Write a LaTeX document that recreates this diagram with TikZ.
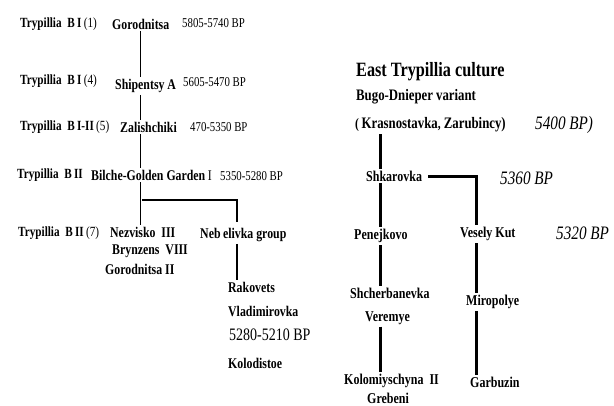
\documentclass[tikz,border=0pt]{standalone}
\usepackage{fontspec}
\setmainfont{Liberation Serif}[FakeStretch=0.8]
\usetikzlibrary{positioning}

\begin{document}
\begin{tikzpicture}[x=1pt,y=-1pt,
          every node/.style={inner sep=2pt,anchor=west},
          stage/.style={font=\fontsize{14}{16}\selectfont\bfseries},
          lab/.style={font=\fontsize{14.8}{17}\selectfont\bfseries},
          date/.style={font=\fontsize{13.5}{15}\selectfont},
          bigdate/.style={font=\fontsize{17.5}{19}\selectfont},
          title/.style={font=\fontsize{20.3}{22}\selectfont\bfseries},
          sub/.style={font=\fontsize{16}{18}\selectfont\bfseries},
          east/.style={font=\fontsize{15}{17}\selectfont\bfseries},
          idate/.style={font=\fontsize{19}{21}\selectfont\itshape},
          link/.style={line width=1.5pt},
          thick link/.style={line width=3pt},
      ]
        \useasboundingbox (0,0) rectangle (614,405);

        % West: Trypillia B stages
        \node[stage] (t1) at (18,24) {Trypillia\ \ B\,I\,{\mdseries(1)}};
        \node[lab] (gor) at (110,24) {Gorodnitsa};
        \node[date] (d1) at (180,23) {5805-5740 BP};
        \node[stage] (t2) at (18,81) {Trypillia\ \ B\,I\,{\mdseries(4)}};
        \node[lab] (ship) at (113,86) {Shipentsy A};
        \node[date] (d2) at (181,82) {5605-5470 BP};
        \node[stage] (t3) at (18,127) {Trypillia\ \ B\,I-II\,{\mdseries(5)}};
        \node[lab] (zal) at (118,127) {Zalishchiki};
        \node[date] (d3) at (188,127) {470-5350 BP};
        \node[stage] (t4) at (15,175) {Trypillia\ \ B\,II};
        \node[lab] (bil) at (89,175) {Bilche-Golden Garden\,{\mdseries I}};
        \node[date] (d4) at (218,176) {5350-5280 BP};
        \node[stage] (t5) at (16,233) {Trypillia\ \ B\,II\,{\mdseries(7)}};
        \node[lab] (nez) at (108,232) {Nezvisko\ \ III};
        \node[lab] (bry) at (110,251) {Brynzens\ \ VIII};
        \node[lab] (gor2) at (103,269) {Gorodnitsa\ II};
        \node[lab] (neb) at (198,235) {Neb\,elivka group};
        \node[lab] (rak) at (226,287) {Rakovets};
        \node[lab] (vla) at (226,311) {Vladimirovka};
        \node[bigdate] (d5) at (227,335) {5280-5210 BP};
        \node[lab] (kol) at (226,363) {Kolodistoe};

        \coordinate (fork) at (142,200);
        \coordinate (nebtop) at (237,222);
        \draw[link] (gor.south) -- (gor.south |- ship.north);
        \draw[link] (gor.south |- ship.south) -- (gor.south |- zal.north);
        \draw[link] (gor.south |- zal.south) -- (gor.south |- bil.north);
        \draw[link] (gor.south |- bil.south) -- (gor.south |- nez.north);
        \draw[link] (fork) -| (nebtop);
        \draw[link] (nebtop |- neb.south) -- (nebtop |- rak.north);

        % East Trypillia culture
        \node[title] (east) at (354,72) {East Trypillia culture};
        \node[sub] (bug) at (354,97) {Bugo-Dnieper variant};
        \node[sub] (kra) at (353,125) {{\Large(}\,Krasnostavka{\Large,} Zarubincy)};
        \node[idate] (i1) at (533,125) {5400 BP)};
        \node[east] (shk) at (364,176) {Shkarovka};
        \node[idate] (i2) at (498,178) {5360 BP};
        \node[east] (pen) at (352,236) {Penejkovo};
        \node[east] (ves) at (458,234) {Vesely Kut};
        \node[idate] (i3) at (554,233) {5320 BP};
        \node[east] (shc) at (348,293) {Shcherbanevka};
        \node[east] (ver) at (363,318) {Veremye};
        \node[east] (mir) at (464,302) {Miropolye};
        \node[east] (kolo) at (342,381) {Kolomiyschyna\ \ II};
        \node[east] (gre) at (365,398) {Grebeni};
        \node[east] (gar) at (468,382) {Garbuzin};

        \coordinate (rcol) at (476,0);
        \draw[thick link] (pen |- kra.south) -- (pen |- shk.north);
        \draw[thick link] ([xshift=4pt]shk.east) -| (rcol |- ves.north);
        \draw[thick link] (pen |- shk.south) -- (pen.north);
        \draw[thick link] (pen.south) -- (pen |- shc.north);
        \draw[thick link] (pen |- ver.south) -- (pen |- kolo.north);
        \draw[thick link] (rcol |- ves.south) -- (rcol |- mir.north);
        \draw[thick link] (rcol |- mir.south) -- (rcol |- gar.north);
      \end{tikzpicture}
\end{document}
